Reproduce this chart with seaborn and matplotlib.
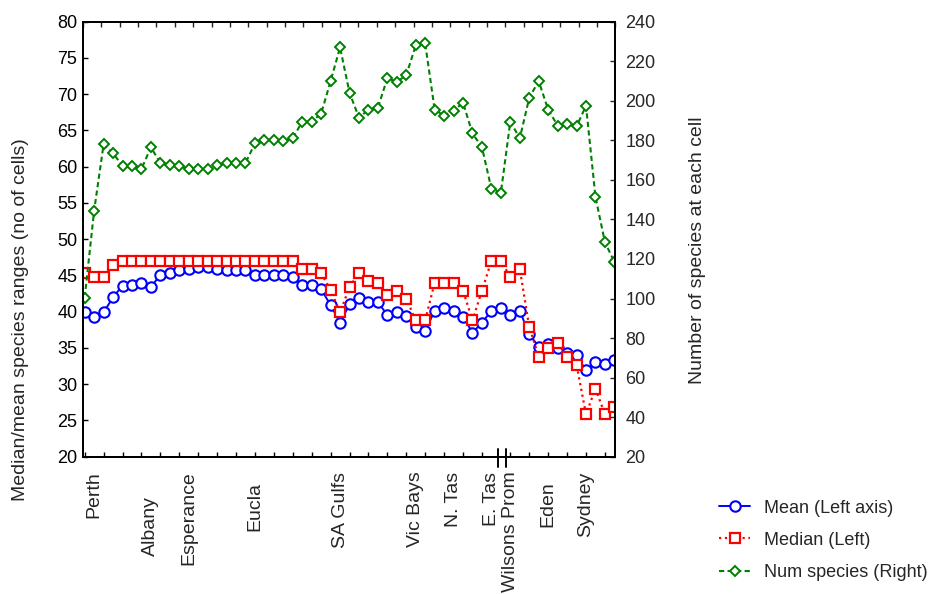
import numpy as np
import pandas as pd
import matplotlib
matplotlib.use("Agg")
import matplotlib.pyplot as plt
import matplotlib.transforms as mtransforms
import seaborn as sns

# ---- data: one value per coastal cell, west (Perth) to east (Sydney) ----
cells = list(range(1, 58))

mean_range = [
    39.9, 39.3, 39.9, 42.0, 43.6, 43.7, 44.0, 43.4, 45.1, 45.4,
    45.7, 45.9, 46.1, 46.1, 45.9, 45.8, 45.8, 45.8, 45.1, 45.1,
    45.1, 45.1, 44.8, 43.7, 43.7, 43.1, 40.9, 38.5, 41.0, 41.85,
    41.3, 41.3, 39.55, 39.9, 39.4, 37.9, 37.4, 40.1, 40.5, 40.1,
    39.3, 37.1, 38.5, 40.1, 40.5, 39.55, 40.1, 36.9, 35.2, 35.55,
    35.0, 34.35, 34.0, 31.9, 33.0, 32.8, 33.3,
]

median_range = [
    45.4, 44.8, 44.8, 46.4, 47.0, 47.0, 47.0, 47.0, 47.0, 47.0,
    47.0, 47.0, 47.0, 47.0, 47.0, 47.0, 47.0, 47.0, 47.0, 47.0,
    47.0, 47.0, 47.0, 45.9, 45.9, 45.3, 43.0, 39.9, 43.4, 45.4,
    44.2, 44.0, 42.3, 42.9, 41.8, 38.8, 38.8, 44.0, 44.0, 44.0,
    42.9, 38.8, 42.9, 47.0, 47.0, 44.8, 45.9, 37.9, 33.8, 34.95,
    35.7, 33.8, 32.7, 25.85, 29.4, 25.85, 26.9,
]

num_species = [
    100.5, 144.5, 178.0, 173.5, 167.0, 167.0, 165.5, 176.5, 168.5, 167.5,
    167.0, 165.5, 165.5, 165.5, 167.5, 168.5, 168.5, 168.5, 178.5, 180.0,
    180.0, 179.5, 181.0, 189.5, 189.5, 193.5, 210.0, 227.0, 204.0, 191.5,
    195.5, 196.5, 211.5, 209.5, 213.0, 228.0, 229.0, 195.5, 192.5, 195.0,
    199.0, 183.5, 176.5, 155.5, 153.5, 189.5, 181.0, 201.5, 210.0, 195.5,
    187.5, 188.5, 187.0, 197.5, 151.5, 128.5, 118.5,
]

site_names = ["Perth", "Albany", "Esperance", "Eucla", "SA Gulfs", "Vic Bays",
              "N. Tas", "E. Tas", "Wilsons Prom", "Eden", "Sydney"]
site_cells = [2, 8, 12, 19, 28, 36, 40, 44, 46, 50, 54]

legend_labels = ["Mean (Left axis)", "Median (Left)", "Num species (Right)"]

# ---- layout / style ----
XLIM = (0.82, 57.12)
LEFT_YLIM = (20, 80)
RIGHT_YLIM = (20, 240)
BREAK_AT = 45.1          # gap in the coastline (Bass Strait)
BREAK_HALF = 0.45
LABEL_GAP_PX = {"Albany": 39, "Eucla": 25, "Eden": 25}
DEFAULT_GAP_PX = 15

sns.set_style("white")
plt.rcParams["font.family"] = ["Liberation Sans", "DejaVu Sans"]
plt.rcParams["axes.linewidth"] = 1.4

fig = plt.figure(figsize=(9.29, 5.94), dpi=100)
ax = fig.add_axes([0.08934, 0.23114, 0.5732, 0.73233])
ax2 = ax.twinx()

df = pd.DataFrame({"cell": cells, "mean": mean_range,
                   "median": median_range, "species": num_species})

sns.lineplot(data=df, x="cell", y="mean", ax=ax, color="blue",
             linewidth=1.4, marker="o", markersize=7.5,
             markerfacecolor="white", markeredgecolor="blue",
             markeredgewidth=1.5, legend=False)
sns.lineplot(data=df, x="cell", y="median", ax=ax, color="red",
             linewidth=1.6, linestyle=":", marker="s", markersize=7.5,
             markerfacecolor="white", markeredgecolor="red",
             markeredgewidth=1.6, legend=False)
sns.lineplot(data=df, x="cell", y="species", ax=ax2, color="#008000",
             linewidth=1.5, linestyle=(0, (2.5, 1.6)), marker="D",
             markersize=4.6, markerfacecolor="white",
             markeredgecolor="#008000", markeredgewidth=1.4, legend=False)

ax.set_xlim(*XLIM)
ax.set_ylim(*LEFT_YLIM)
ax2.set_ylim(*RIGHT_YLIM)
ax.set_yticks(np.arange(20, 81, 5))
ax2.set_yticks(np.arange(20, 241, 20))

tick_cells = list(range(1, 44, 2)) + list(range(46, 57, 2))
ax.set_xticks(tick_cells)
ax.set_xticklabels([])
ax.set_xlabel("")

ax.tick_params(axis="both", direction="in", length=3.5, width=1.0,
               labelsize=13, colors="black")
ax.tick_params(axis="y", pad=4)
ax2.tick_params(axis="y", direction="in", length=3.5, width=1.0,
                labelsize=13, pad=7)

# top edge ticks
top = ax.twiny()
top.set_xlim(*XLIM)
top.set_xticks(np.linspace(XLIM[0], XLIM[1], 30))
top.tick_params(axis="x", direction="in", length=3.5, width=1.0,
                labeltop=False, top=True, bottom=False)

for a in (ax, ax2, top):
    for s in a.spines.values():
        s.set_color("black")
        s.set_linewidth(1.4)

ax.set_ylabel("Median/mean species ranges (no of cells)", fontsize=14)
ax.yaxis.set_label_coords(-0.102, 0.315)
ax2.set_ylabel("Number of species at each cell", fontsize=14)
ax2.yaxis.set_label_coords(1.138, 0.475)

# site names below the axis
blend = mtransforms.blended_transform_factory(ax.transData, ax.transAxes)
for name, c in zip(site_names, site_cells):
    gap = LABEL_GAP_PX.get(name, DEFAULT_GAP_PX) / fig.dpi
    tr = blend + mtransforms.ScaledTranslation(0, -gap, fig.dpi_scale_trans)
    ax.text(c, 0, name, transform=tr, rotation=90, ha="center", va="top",
            fontsize=14)

# axis break marks
for bx in (BREAK_AT - BREAK_HALF, BREAK_AT + BREAK_HALF):
    ax.plot([bx, bx], [-0.023, 0.018], transform=blend, color="black",
            linewidth=1.4, clip_on=False, zorder=6)
ax.plot([BREAK_AT - BREAK_HALF + 0.12, BREAK_AT + BREAK_HALF - 0.12], [0, 0],
        transform=blend, color="white", linewidth=2.5, clip_on=False,
        zorder=5, solid_capstyle="butt")

handles = [ax.lines[0], ax.lines[1], ax2.lines[0]]
fig.legend(handles, legend_labels, loc="upper left",
           bbox_to_anchor=(0.774, 0.159), frameon=False, fontsize=13,
           handlelength=1.72, handletextpad=0.78, labelspacing=0.84,
           borderpad=0, borderaxespad=0)

fig.savefig("out.png", dpi=100)
